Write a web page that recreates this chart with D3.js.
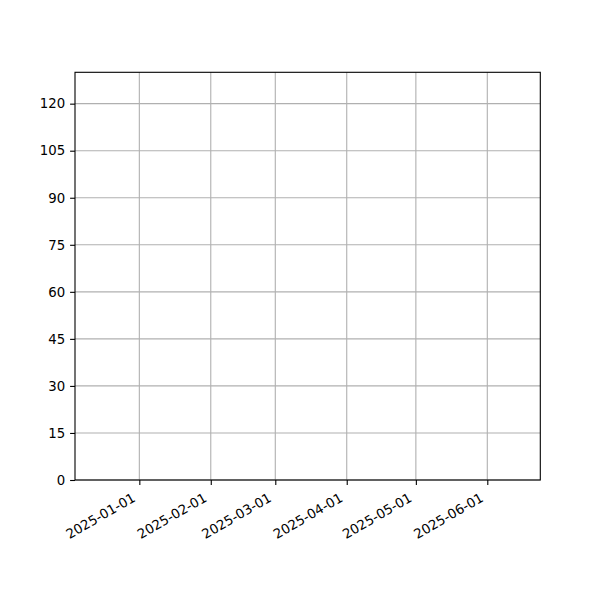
<!DOCTYPE html>
<html>
<head>
<meta charset="utf-8">
<script src="https://cdn.jsdelivr.net/npm/d3@7"></script>
<style>
  body { margin: 0; background: #fff; }
  svg { display: block; font-family: "DejaVu Sans", sans-serif; }
</style>
</head>
<body>
<svg id="chart" width="600" height="600"></svg>
<script>
'use strict';

// chart values (the reference plot has no series drawn)
const seriesDates  = [];
const seriesValues = [];
const xTickLabels  = [ '2025-01-01', '2025-02-01', '2025-03-01', '2025-04-01', '2025-05-01', '2025-06-01' ];
const yTickValues  = [ 0, 15, 30, 45, 60, 75, 90, 105, 120 ];
const xDomainDays  = [ '2024-12-04T02:00:00', '2025-06-24T00:00:00' ];
const yDomain      = [ 0, 130 ];

const margin = { top: 72.3, right: 59.7, bottom: 120, left: 75 },
      width  = 600 - margin.left - margin.right,
      height = 600 - margin.top - margin.bottom;

const parse = d3.isoParse;
const fontSize = '13.3px';

const svg = d3.select( '#chart' )
  .append( 'g' )
    .attr( 'transform', `translate(${margin.left},${margin.top})` );

// scales
const x = d3.scaleUtc()
  .domain( xDomainDays.map( parse ) )
  .range( [ 0, width ] );

const y = d3.scaleLinear()
  .domain( yDomain )
  .range( [ height, 0 ] );

const xTicks = xTickLabels.map( (s) => parse( s + 'T00:00:00Z' ) );

// grid
const grid = svg.append( 'g' ).attr( 'class', 'grid' );

grid.selectAll( 'line.gx' )
    .data( xTicks )
  .enter().append( 'line' )
    .attr( 'class', 'gx' )
    .attr( 'x1', (d) => x( d ) )
    .attr( 'x2', (d) => x( d ) )
    .attr( 'y1', 0 )
    .attr( 'y2', height )
    .style( 'stroke', '#b0b0b0' )
    .style( 'stroke-width', 1.1 );

grid.selectAll( 'line.gy' )
    .data( yTickValues )
  .enter().append( 'line' )
    .attr( 'class', 'gy' )
    .attr( 'x1', 0 )
    .attr( 'x2', width )
    .attr( 'y1', (d) => y( d ) )
    .attr( 'y2', (d) => y( d ) )
    .style( 'stroke', '#b0b0b0' )
    .style( 'stroke-width', 1.1 );

// data line (empty)
svg.append( 'path' )
  .datum( seriesDates.map( (d, i) => ({ d: parse( d ), v: seriesValues[i] }) ) )
  .attr( 'fill', 'none' )
  .attr( 'stroke', '#1f77b4' )
  .attr( 'd', d3.line().x( (p) => x( p.d ) ).y( (p) => y( p.v ) ) );

// axes
const xAxis = d3.axisBottom( x )
  .tickValues( xTicks )
  .tickFormat( d3.utcFormat( '%Y-%m-%d' ) )
  .tickSize( 4.9 )
  .tickPadding( 4.9 );

const yAxis = d3.axisLeft( y )
  .tickValues( yTickValues )
  .tickSize( 4.9 )
  .tickPadding( 4.9 );

const gx = svg.append( 'g' )
    .attr( 'class', 'x axis' )
    .attr( 'transform', `translate(0,${height})` )
    .call( xAxis );

gx.select( '.domain' ).remove();
gx.selectAll( '.tick line' ).style( 'stroke', '#000' ).style( 'stroke-width', 1.1 );
gx.selectAll( '.tick text' )
    .attr( 'y', null )
    .attr( 'dy', null )
    .attr( 'text-anchor', 'end' )
    .attr( 'transform', 'translate(-3.5,20.5) rotate(-30)' )
    .style( 'font-size', fontSize )
    .style( 'font-family', '"DejaVu Sans", sans-serif' )
    .style( 'fill', '#000' );

const gy = svg.append( 'g' )
    .attr( 'class', 'y axis' )
    .call( yAxis );

gy.select( '.domain' ).remove();
gy.selectAll( '.tick line' ).style( 'stroke', '#000' ).style( 'stroke-width', 1.1 );
gy.selectAll( '.tick text' )
    .style( 'font-size', fontSize )
    .style( 'font-family', '"DejaVu Sans", sans-serif' )
    .style( 'fill', '#000' );

// frame
svg.append( 'rect' )
  .attr( 'x', 0 )
  .attr( 'y', 0 )
  .attr( 'width', width )
  .attr( 'height', height )
  .style( 'fill', 'none' )
  .style( 'stroke', '#000' )
  .style( 'stroke-width', 1.1 );
</script>
</body>
</html>
